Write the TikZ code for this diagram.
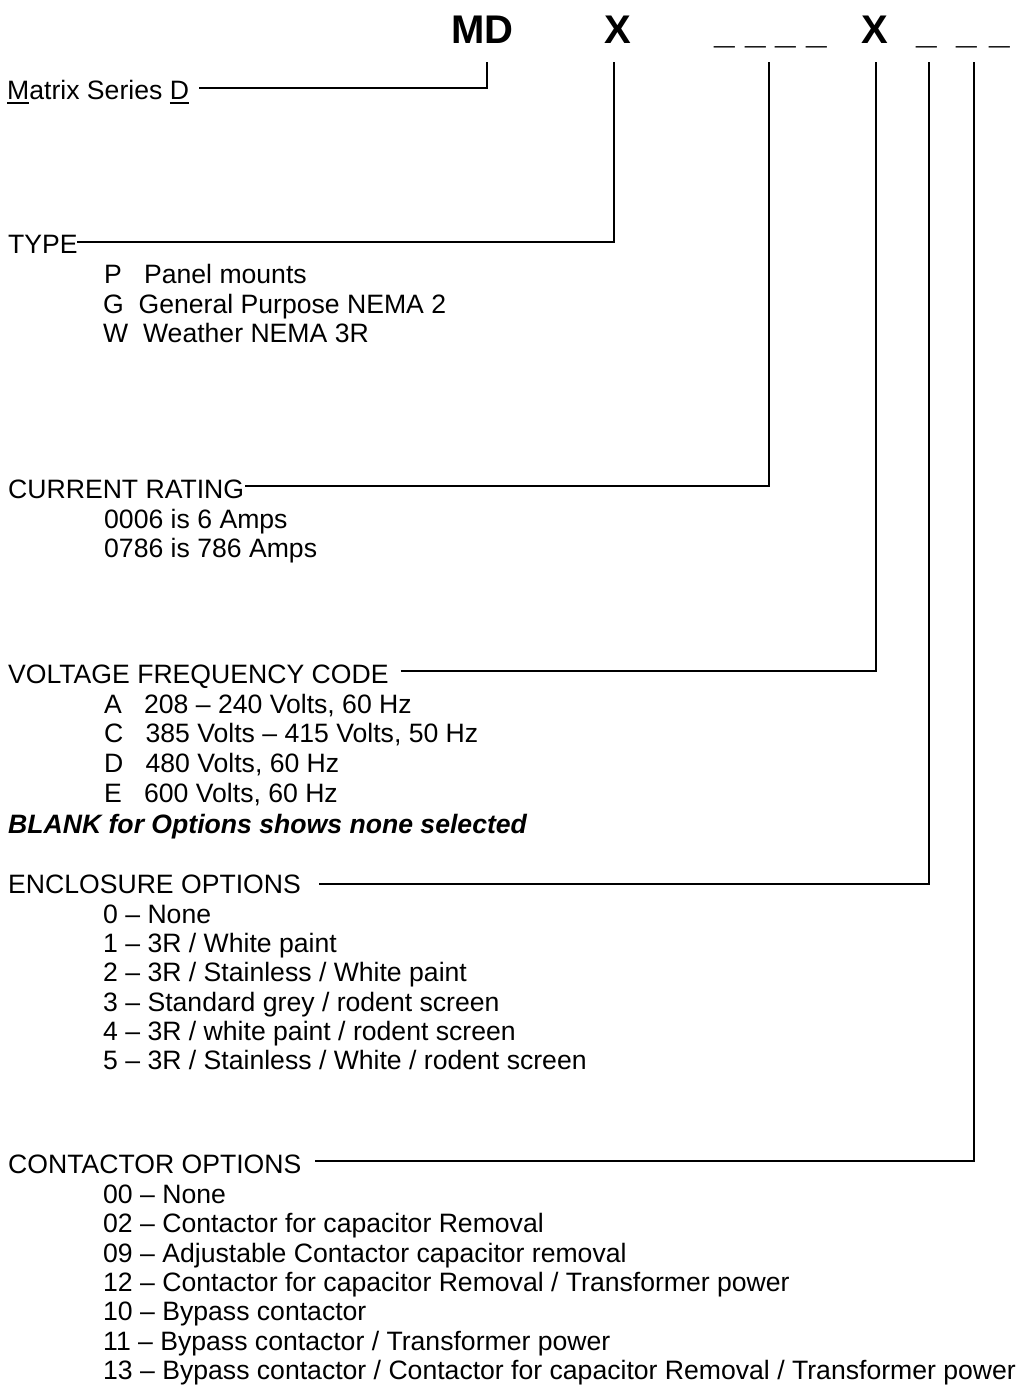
\documentclass[tikz,border=0pt]{standalone}
\usepackage{fontspec}
\setmainfont{Liberation Sans}
\newcommand\myul[1]{\setbox0\hbox{#1}\rlap{\rule[-4.6pt]{\wd0}{1.8pt}}#1}
\begin{document}
\begin{tikzpicture}[x=1pt,y=-1pt,
  lbl/.style={anchor=base west, inner sep=0pt, font=\fontsize{26.6}{29.7}\selectfont},
  hdr/.style={anchor=base west, inner sep=0pt, font=\fontsize{40}{48}\selectfont\bfseries},
  uscore/.style={anchor=base west, inner sep=0pt, font=\fontsize{37}{44}\selectfont\bfseries},
  conn/.style={line width=1.7pt, line join=miter}]
\useasboundingbox (0,0) rectangle (1021,1393);

% header code
\node[hdr] (md) at (451,43) {MD};
\node[hdr] (x1) at (604,43) {X};
\node[uscore] (u1) at (714,43) {\_ \_ \_ \_};
\node[hdr] (x2) at (861,43) {X};
\node[uscore] (u2) at (916,43) {\_\hspace{19.4pt}\_\hspace{12.4pt}\_};

% top ends of the leader lines
\coordinate (tMD) at (487,62);
\coordinate (tX1) at (614,62);
\coordinate (tU1) at (769,62);
\coordinate (tX2) at (876,62);
\coordinate (tE)  at (929,62);
\coordinate (tC)  at (974,62);

% Matrix series
\node[lbl] (mat) at (7,99) {\myul{M}atrix Series \myul{D}};

% TYPE
\node[lbl] (type) at (8,253) {TYPE};
\node[lbl] (tp) at (104,283) {P\ \ \ Panel mounts};
\node[lbl] (tg) at (103,313) {G\ \ General Purpose NEMA 2};
\node[lbl] (tw) at (103,342) {W\ \ Weather NEMA 3R};

% CURRENT RATING
\node[lbl] (cur) at (8,498) {CURRENT RATING};
\node[lbl] (c1) at (104,528) {0006 is 6 Amps};
\node[lbl] (c2) at (104,557) {0786 is 786 Amps};

% VOLTAGE
\node[lbl] (volt) at (8,683) {VOLTAGE FREQUENCY CODE};
\node[lbl] (va) at (104,713) {A\ \ \ 208 – 240 Volts, 60 Hz};
\node[lbl] (vc) at (104,742) {C\ \ \ 385 Volts – 415 Volts, 50 Hz};
\node[lbl] (vd) at (104,772) {D\ \ \ 480 Volts, 60 Hz};
\node[lbl] (ve) at (104,802) {E\ \ \ 600 Volts, 60 Hz};
\node[lbl, font=\fontsize{26.6}{29.7}\selectfont\bfseries\itshape] (blank) at (8,833) {BLANK for Options shows none selected};

% ENCLOSURE
\node[lbl] (enc) at (8,893) {ENCLOSURE OPTIONS};
\node[lbl] (e0) at (103,923) {0 – None};
\node[lbl] (e1) at (103,952) {1 – 3R / White paint};
\node[lbl] (e2) at (103,981) {2 – 3R / Stainless / White paint};
\node[lbl] (e3) at (103,1011) {3 – Standard grey / rodent screen};
\node[lbl] (e4) at (103,1040) {4 – 3R / white paint / rodent screen};
\node[lbl] (e5) at (103,1069) {5 – 3R / Stainless / White / rodent screen};

% CONTACTOR
\node[lbl] (con) at (8,1173) {CONTACTOR OPTIONS};
\node[lbl] (k00) at (103,1203) {00 – None};
\node[lbl] (k02) at (103,1232) {02 – Contactor for capacitor Removal};
\node[lbl] (k09) at (103,1262) {09 – Adjustable Contactor capacitor removal};
\node[lbl] (k12) at (103,1291) {12 – Contactor for capacitor Removal / Transformer power};
\node[lbl] (k10) at (103,1320) {10 – Bypass contactor};
\node[lbl] (k11) at (103,1350) {11 – Bypass contactor / Transformer power};
\node[lbl] (k13) at (103,1379) {13 – Bypass contactor / Contactor for capacitor Removal / Transformer power};

% start points of the leader lines
\coordinate (sMD) at (199,88);
\coordinate (sT)  at (77,242);
\coordinate (sCR) at (245,486);
\coordinate (sV)  at ([xshift=12pt,yshift=12pt]volt.base east);
\coordinate (sE)  at (319,884);
\coordinate (sC)  at (315,1161);

\draw[conn] (sMD) -| (tMD);
\draw[conn] (sT)  -| (tX1);
\draw[conn] (sCR) -| (tU1);
\draw[conn] (sV)  -| (tX2);
\draw[conn] (sE)  -| (tE);
\draw[conn] (sC)  -| (tC);
\end{tikzpicture}
\end{document}
